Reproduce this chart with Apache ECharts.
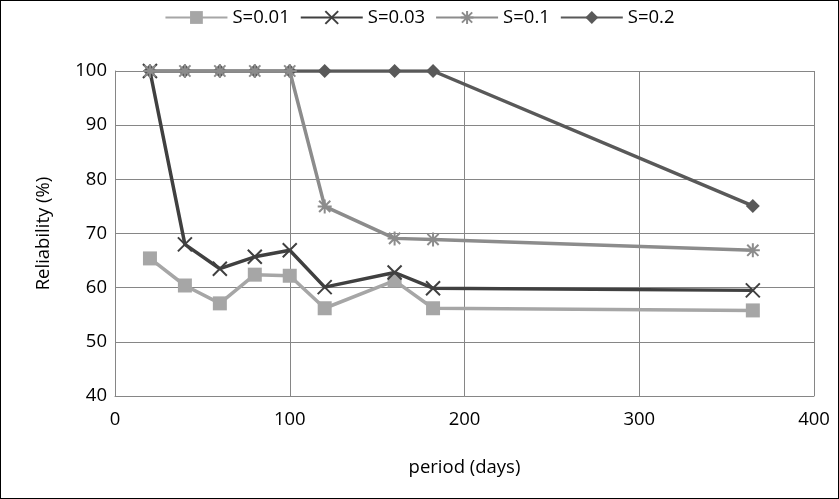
<!DOCTYPE html><html><head><meta charset="utf-8">
<script src="https://cdn.jsdelivr.net/npm/echarts@6/dist/echarts.min.js"></script>
<style>body{margin:0}#c{width:839px;height:499px;box-sizing:border-box;border:1px solid #000}</style></head><body><div id="c"></div><script>
const xs=[20,40,60,80,100,120,160,182,365];
const s001=[65.4,60.4,57.1,62.4,62.2,56.2,61.3,56.2,55.8];
const s003=[100,68,63.5,65.7,66.9,60.1,62.8,59.9,59.5];
const s01=[100,100,100,100,100,75,69.1,68.9,66.9];
const s02=[100,100,100,100,100,100,100,100,75.1];
const names=['S=0.01','S=0.03','S=0.1','S=0.2'];
const colors=['#a6a6a6','#404040','#8c8c8c','#595959'];
const syms=['rect','path://M0,0L10,10M10,0L0,10','path://M0,5L10,5M5,0L5,10M1,1L9,9M9,1L1,9','diamond'];
const data=[s001,s003,s01,s02];
const f='"Open Sans"';
const ts={fontSize:18.5,fontFamily:f,color:'#000'};
const ch=echarts.init(document.getElementById('c'));
ch.setOption({animation:false,textStyle:{fontFamily:f,fontSize:18.5},
legend:{top:2,left:'center',itemWidth:62,itemHeight:16,itemGap:10,textStyle:ts,data:names},
grid:{left:114,right:24,top:70,bottom:102},
xAxis:{type:'value',min:0,max:400,interval:100,name:'period (days)',nameLocation:'middle',nameGap:62,nameTextStyle:ts,
axisLine:{lineStyle:{color:'#868686'}},axisTick:{show:false},axisLabel:Object.assign({margin:14},ts),splitLine:{show:true,lineStyle:{color:'#868686'}}},
yAxis:{type:'value',min:40,max:100,interval:10,name:'Reliability (%)',nameLocation:'middle',nameGap:62,nameTextStyle:ts,
axisLine:{show:true,lineStyle:{color:'#868686'}},axisTick:{show:false},axisLabel:Object.assign({margin:8},ts),splitLine:{lineStyle:{color:'#868686'}}},
series:names.map((n,i)=>({name:n,type:'line',data:xs.map((x,j)=>[x,data[i][j]]),symbol:syms[i],symbolSize:14,
lineStyle:{width:3.5,color:colors[i]},itemStyle:i==1||i==2?{color:colors[i],borderColor:colors[i],borderWidth:2}:{color:colors[i]},z:i==3?1:2+i}))
});
</script></body></html>
